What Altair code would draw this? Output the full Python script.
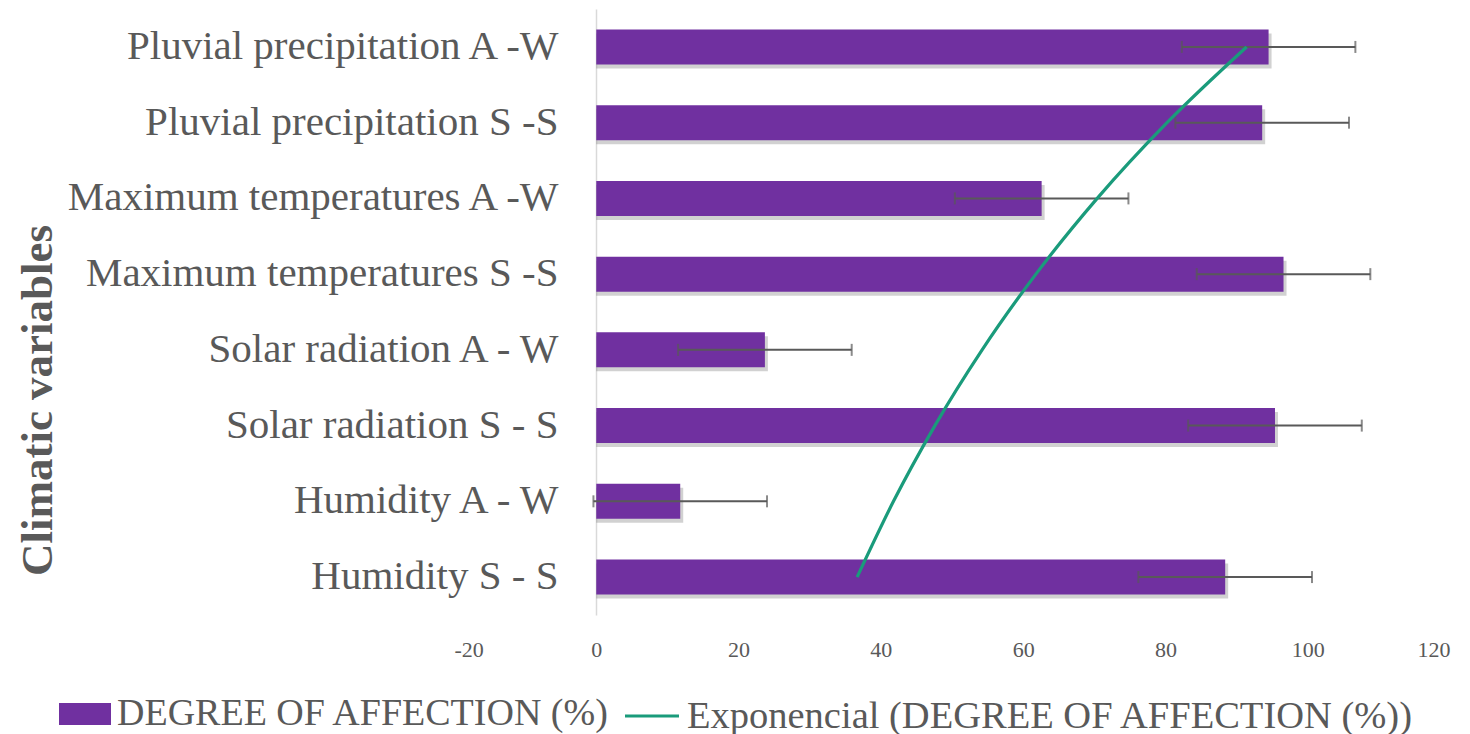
import altair as alt
import pandas as pd

# Categories listed bottom-to-top (Excel category order)
categories = [
    "Humidity S - S",
    "Humidity A - W",
    "Solar radiation S - S",
    "Solar radiation A - W",
    "Maximum temperatures S -S",
    "Maximum temperatures A -W",
    "Pluvial precipitation S -S ",
    "Pluvial precipitation A -W",
]
values = [88.4, 11.8, 95.4, 23.7, 96.6, 62.6, 93.6, 94.5]
errors = [12.2, 12.2, 12.2, 12.2, 12.2, 12.2, 12.2, 12.2]

series_name = "DEGREE OF AFFECTION (%)"
trend_name = "Exponencial (DEGREE OF AFFECTION (%))"

df = pd.DataFrame({"category": categories, "value": values, "err": errors})
df["series"] = series_name
df["trendname"] = trend_name

PURPLE = "#7030A0"
TEAL = "#1A9B7B"
GRAY = "#595959"
FONT = "Liberation Serif"

W, H = 996, 606
top_to_bottom = categories[::-1]

yenc = alt.Y(
    "category:N",
    sort=top_to_bottom,
    scale=alt.Scale(paddingInner=0.538, paddingOuter=0.27),
    axis=alt.Axis(
        title="Climatic variables",
        titleFont=FONT,
        titleFontSize=45,
        titleFontWeight="bold",
        titleColor=GRAY,
        titleX=-559,
        titleY=391,
        titleAngle=-90,
        titleAlign="center",
        titleBaseline="middle",
        labelFont=FONT,
        labelFontSize=41,
        labelColor=GRAY,
        labelPadding=38,
        ticks=False,
        domain=True,
        domainColor="#D9D9D9",
        domainWidth=1.5,
        offset=-142,
        grid=False,
        labelLimit=0,
    ),
)

xscale = alt.Scale(domain=[-20, 120], nice=False, zero=False)
xaxis = alt.Axis(
    title=None,
    values=[-20, 0, 20, 40, 60, 80, 100, 120],
    labelExpr="'' + datum.value",
    labelFont=FONT,
    labelFontSize=22,
    labelColor=GRAY,
    labelPadding=24,
    ticks=False,
    domain=False,
    grid=False,
)

base = alt.Chart(df)

shadow = base.mark_bar(color="#000000", opacity=0.18, xOffset=3, yOffset=4).encode(
    x=alt.X("value:Q", scale=xscale, axis=xaxis),
    x2=alt.datum(0),
    y=yenc,
)

bars = base.mark_bar().encode(
    x=alt.X("value:Q", scale=xscale, axis=xaxis),
    x2=alt.datum(0),
    y=yenc,
    color=alt.Color(
        "series:N",
        scale=alt.Scale(domain=[series_name], range=[PURPLE]),
        legend=alt.Legend(
            title=None,
            orient="none",
            legendX=-395,
            legendY=679,
            symbolType="M-1,-0.42H1V0.42H-1Z",
            symbolSize=2704,
            symbolStrokeWidth=0,
            symbolOpacity=1,
            labelFont=FONT,
            labelFontSize=38,
            labelColor=GRAY,
            labelOffset=6,
            labelLimit=0,
            padding=0,
        ),
    ),
)

errrule = base.mark_rule(color=GRAY, strokeWidth=2).transform_calculate(
    lo="datum.value - datum.err", hi="datum.value + datum.err"
).encode(
    x=alt.X("lo:Q", scale=xscale, axis=xaxis),
    x2="hi:Q",
    y=yenc,
)

caplo = base.mark_tick(color=GRAY, thickness=2, size=12).transform_calculate(
    lo="datum.value - datum.err"
).encode(x=alt.X("lo:Q", scale=xscale, axis=xaxis), y=yenc)

caphi = base.mark_tick(color=GRAY, thickness=2, size=12).transform_calculate(
    hi="datum.value + datum.err"
).encode(x=alt.X("hi:Q", scale=xscale, axis=xaxis), y=yenc)

# Exponential trendline: least-squares fit of ln(value) on category index (as Excel)
trend = (
    base.transform_window(idx="row_number()")
    .transform_calculate(lnv="log(datum.value)")
    .transform_joinaggregate(mi="mean(idx)", ml="mean(lnv)")
    .transform_calculate(
        dxy="(datum.idx - datum.mi) * (datum.lnv - datum.ml)",
        dxx="(datum.idx - datum.mi) * (datum.idx - datum.mi)",
    )
    .transform_joinaggregate(sxy="sum(dxy)", sxx="sum(dxx)")
    .transform_calculate(
        trend="exp(datum.ml + datum.sxy / datum.sxx * (datum.idx - datum.mi))"
    )
    .mark_line(strokeWidth=3.2, interpolate="monotone")
    .encode(
        x=alt.X("trend:Q", scale=xscale, axis=xaxis),
        y=yenc,
        order=alt.Order("idx:Q"),
        stroke=alt.Stroke(
            "trendname:N",
            scale=alt.Scale(domain=[trend_name], range=[TEAL]),
            legend=alt.Legend(
                title=None,
                orient="none",
                legendX=169,
                legendY=678,
                symbolType="stroke",
                symbolSize=2916,
                symbolStrokeWidth=3.2,
                labelFont=FONT,
                labelFontSize=38.5,
                labelColor=GRAY,
                labelOffset=6,
                labelLimit=0,
                padding=0,
            ),
        ),
    )
)

chart = (
    alt.layer(shadow, bars, errrule, caplo, caphi, trend)
    .properties(
        width=W,
        height=H,
        background="white",
        autosize=alt.AutoSizeParams(type="none"),
        padding={"left": 446, "top": 1, "right": 12, "bottom": 130},
    )
    .configure_view(stroke="transparent", strokeWidth=0)
)

chart.save("out.html", embed_options={"renderer": "svg", "actions": False})
